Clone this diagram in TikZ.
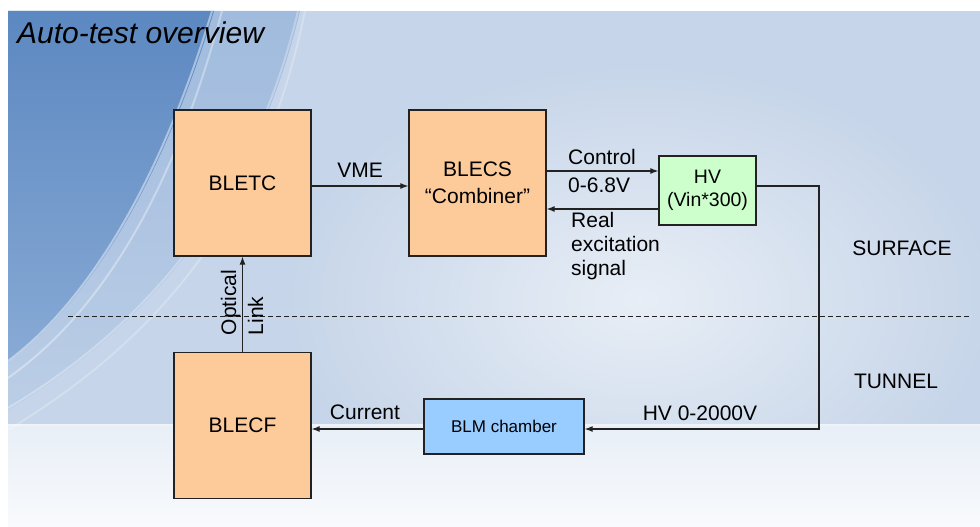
\documentclass[tikz,border=0pt]{standalone}
\usepackage{fontspec}
\setmainfont{Liberation Sans}
\usetikzlibrary{arrows.meta,fadings}
\definecolor{bgbase}{HTML}{C6D5E9}
\definecolor{bgdarktop}{HTML}{5C88C1}
\definecolor{bgdarkbot}{HTML}{88AAD5}
\definecolor{bgmidtop}{HTML}{9AB7DC}
\definecolor{bgmidbot}{HTML}{BACDE6}
\definecolor{bglow}{HTML}{EEF3F9}
\definecolor{boxorange}{HTML}{FCCB99}
\definecolor{boxgreen}{HTML}{CCFFCC}
\definecolor{boxblue}{HTML}{99CCFF}
\definecolor{edge}{HTML}{222222}
\tikzfading[name=softglow, inner color=transparent!0, outer color=transparent!100]
\tikzset{
  blk/.style={draw=edge, line width=1.3pt, inner sep=0pt, align=center, font=\fontsize{21}{27}\selectfont},
  obox/.style={blk, fill=boxorange, minimum width=137pt, minimum height=146pt},
  lbl/.style={font=\fontsize{21}{24}\selectfont, inner sep=0pt},
  arr/.style={draw=edge, line width=1.2pt, -{Latex[length=8pt,width=6pt]}},
  swoosh/.style={white, line width=2pt},
}
\begin{document}
\begin{tikzpicture}[x=1pt,y=-1pt]
\useasboundingbox (0,0) rectangle (980,527);
\fill[white] (0,0) rectangle (980,527);
% background
\fill[bgbase] (8,11) rectangle (980,527);
\fill[white, path fading=softglow, opacity=0.6] (640,300) ellipse [x radius=360, y radius=240];
\shade[top color=bgmidtop, bottom color=bgmidbot, opacity=0.85] (8,11) -- (300,11) .. controls (262,170) and (175,310) .. (8,410) -- cycle;
\shade[top color=bgdarktop, bottom color=bgdarkbot] (8,11) -- (214,11) .. controls (172,150) and (105,290) .. (8,362) -- cycle;
\shade[top color=bglow!85!bgbase, bottom color=bglow!40!white] (8,424) rectangle (980,527);
\fill[white, opacity=0.35] (8,424) rectangle (980,426);
\draw[swoosh, opacity=0.45] (212,11) .. controls (170,150) and (103,290) .. (8,361);
\draw[swoosh, opacity=0.35] (222,11) .. controls (182,160) and (118,300) .. (8,378);
\draw[swoosh, opacity=0.3] (298,11) .. controls (260,170) and (173,310) .. (8,408);
\draw[swoosh, opacity=0.25] (305,11) .. controls (270,180) and (190,320) .. (8,430);
% title
\node[anchor=west, font=\fontsize{30}{34}\selectfont\itshape, inner sep=0pt] (title) at (17,33) {Auto-test overview};
% boxes
\node[obox] (bletc) at (242.5,183) {BLETC};
\node[obox] (blecs) at (477.5,183) {BLECS\\“Combiner”};
\node[blk, fill=boxgreen, minimum width=97pt, minimum height=69pt, font=\fontsize{19.5}{23}\selectfont] (hv) at (707.5,190.5) {HV\\(Vin*300)};
\node[blk, fill=boxblue, minimum width=160pt, minimum height=55pt, font=\fontsize{17}{20}\selectfont] (blm) at (504,426.5) {BLM chamber};
\node[obox] (blecf) at (242.5,425.5) {BLECF};
% dashed separator
\coordinate (dl) at (68,316);
\coordinate (dr) at (970,316);
\draw[edge, line width=1pt, dash pattern=on 5pt off 3pt] (dl) -- (dr);
% connectors
\draw[arr] ([yshift=-3pt]bletc.east) -- ([yshift=-3pt]blecs.west);
\draw[arr] (blecs.east |- 0,171) -- (hv.west |- 0,171);
\draw[arr] (hv.west |- 0,209) -- (blecs.east |- 0,209);
\coordinate (c1) at (819,186);
\coordinate (c2) at (819,429);
\draw[arr] (hv.east |- c1) -- (c1) -- (c2) -- (blm.east |- c2);
\draw[arr] (blm.west |- c2) -- (blecf.east |- c2);
\draw[arr] (blecf.north) -- (bletc.south);
% labels
\node[lbl] (vme) at (360,170) {VME};
\node[lbl, anchor=west] (ctrl) at (568,157) {Control};
\node[lbl, anchor=west] (volt) at (568,185) {0-6.8V};
\node[lbl, anchor=west, align=left] (real) at (571,246) {Real\\excitation\\signal};
\node[lbl] (hvlbl) at (700,413) {HV 0-2000V};
\node[lbl] (cur) at (365,412) {Current};
\node[lbl, rotate=90, align=left, font=\fontsize{21}{27}\selectfont] (opt) at (242,302.5) {Optical\\Link};
\node[lbl] (surf) at (902,248) {SURFACE};
\node[lbl] (tun) at (896,381) {TUNNEL};
\end{tikzpicture}
\end{document}
